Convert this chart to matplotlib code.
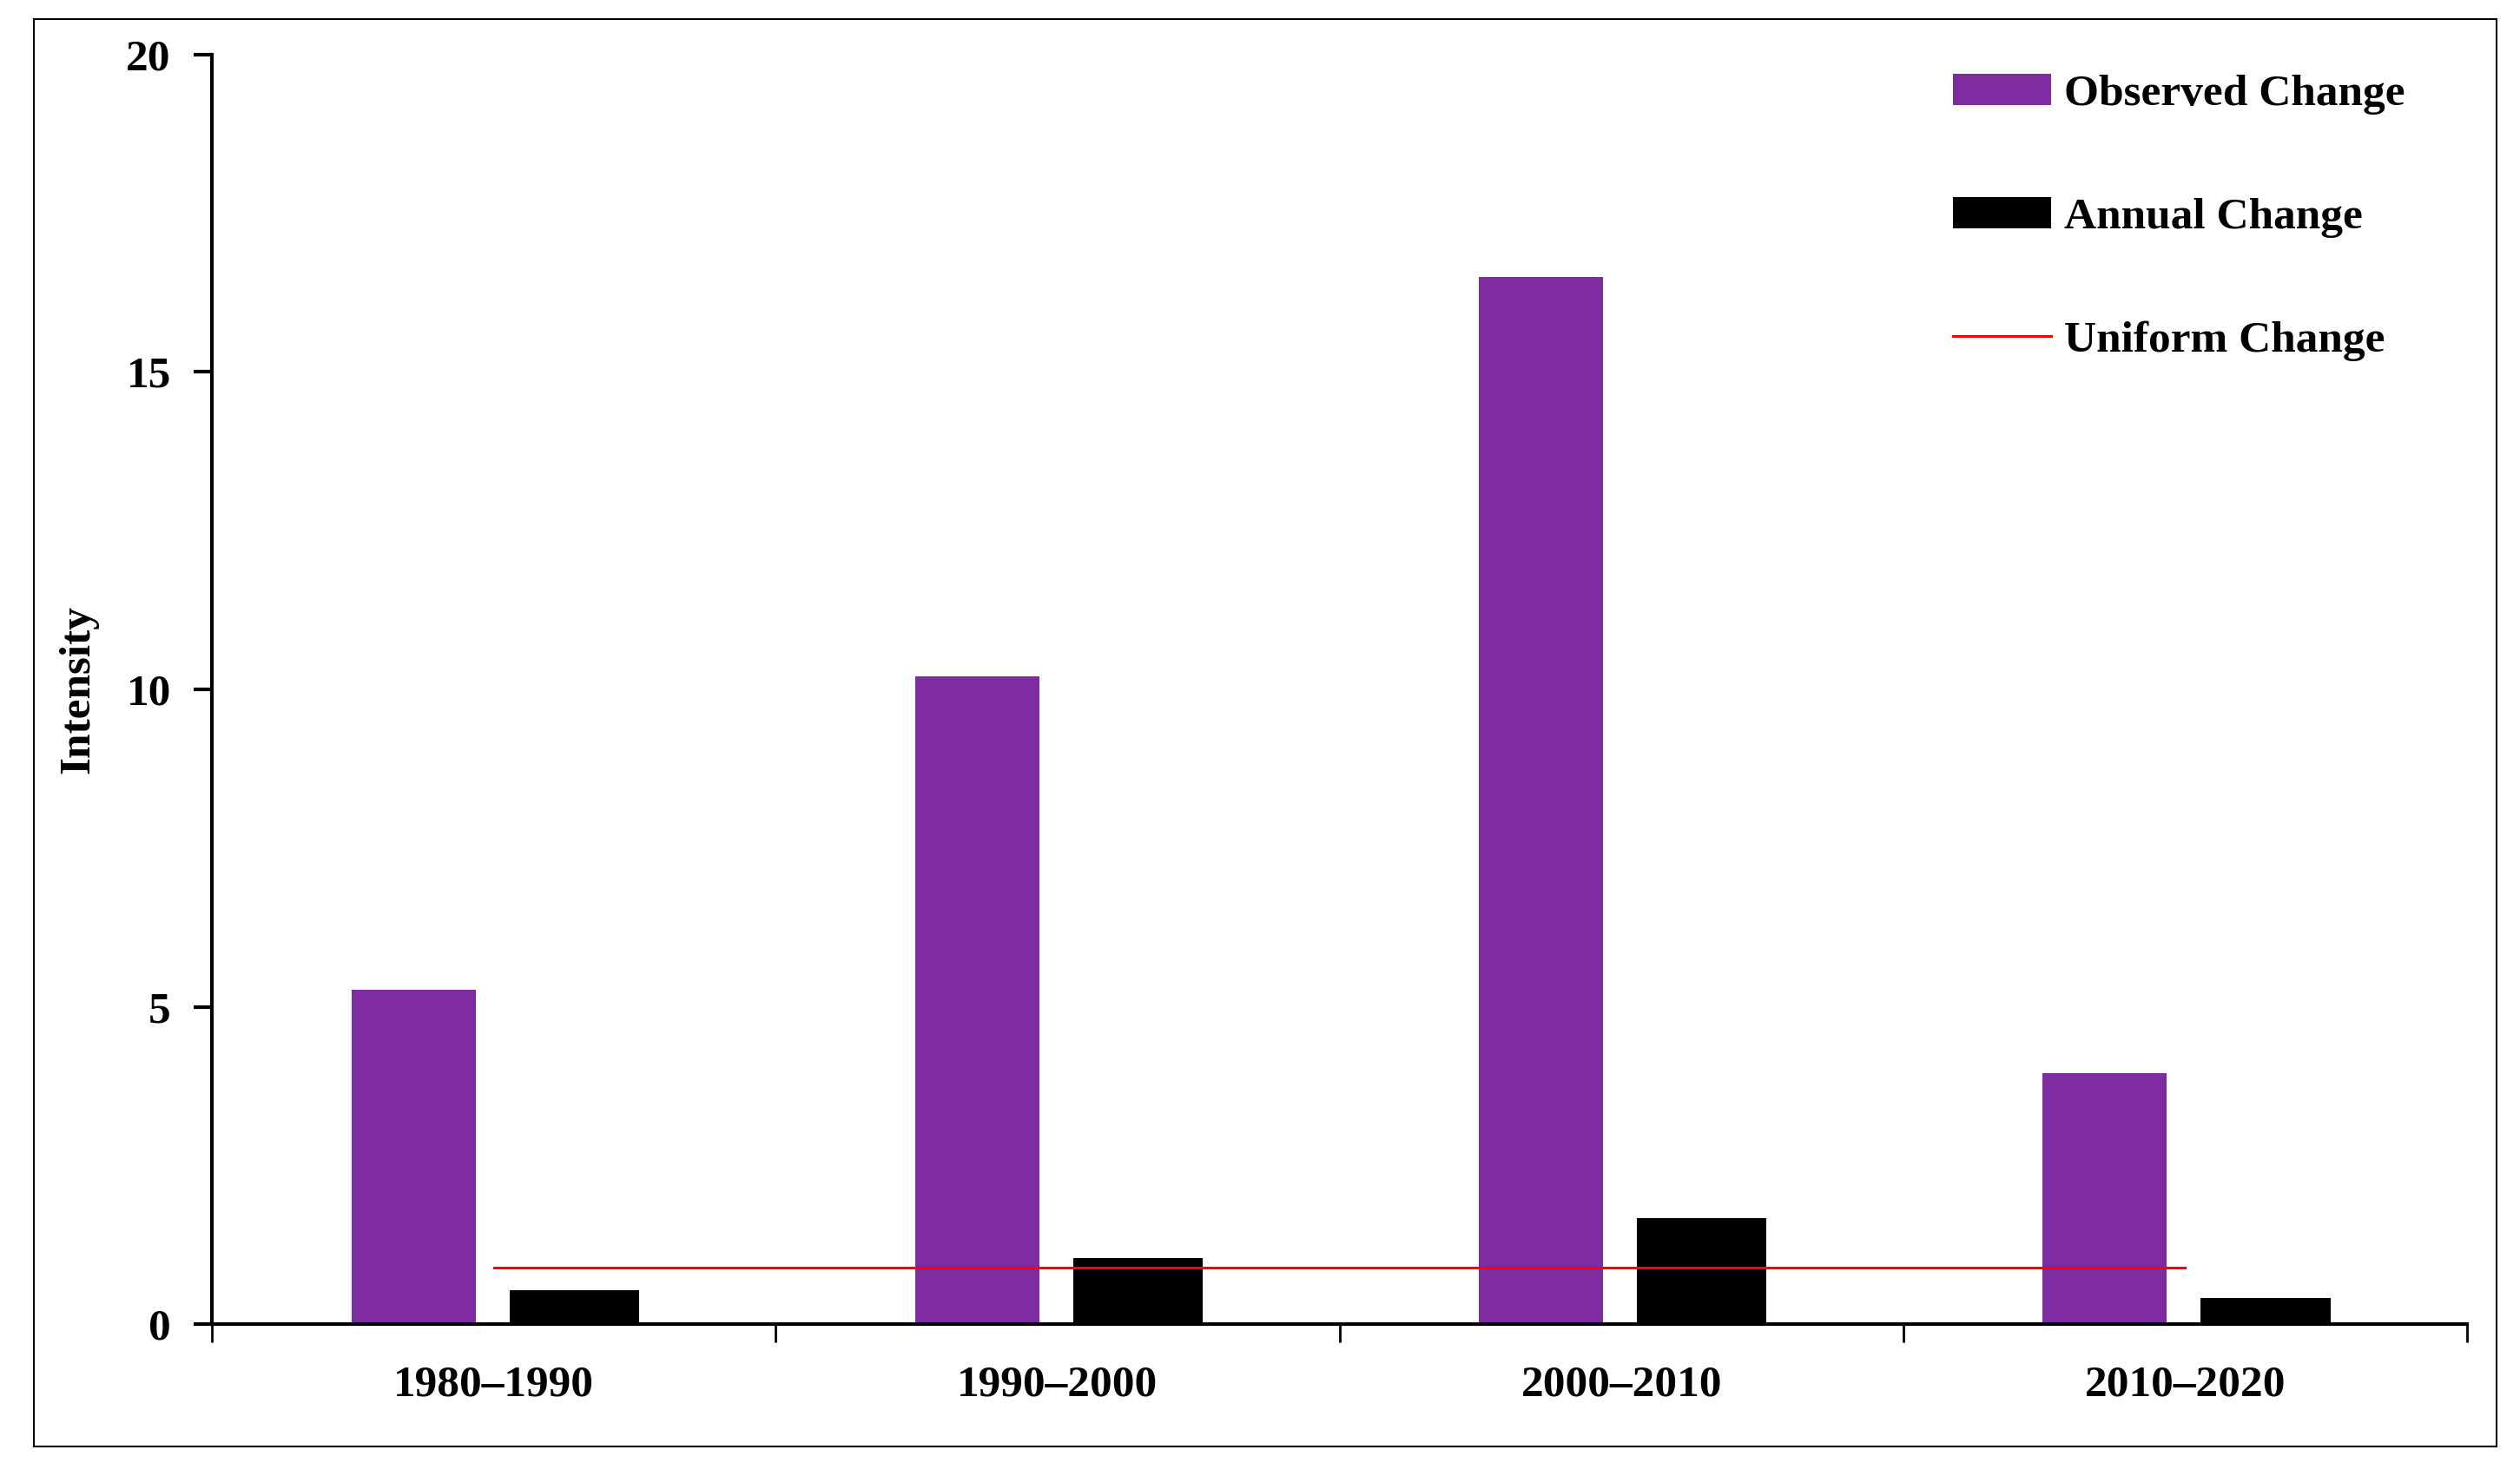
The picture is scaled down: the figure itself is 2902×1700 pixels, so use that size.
import numpy as np
import matplotlib.pyplot as plt
from matplotlib.patches import Rectangle

# Dados
periodos = ['1980–1990', '1990–2000', '2000–2010', '2010–2020']
mudanca_observada = [5.27, 10.2, 16.5, 3.95]
mudanca_anual = [0.53, 1.04, 1.67, 0.41]
mudanca_uniforme = [0.89, 0.89, 0.89, 0.89]

cor_roxa = '#7F2CA0'
fonte = 'Liberation Serif'
tam = 37

fig = plt.figure(figsize=(29.02, 17), dpi=100, facecolor='white')
ax = fig.add_axes([0.0841, 0.1029, 0.979 - 0.0841, 0.963 - 0.1029])

x = np.arange(len(periodos)) + 0.5
b1 = ax.bar(x - 0.1425, mudanca_observada, width=0.22, color=cor_roxa,
            label='Observed Change', zorder=2)
b2 = ax.bar(x + 0.1425, mudanca_anual, width=0.23, color='black',
            label='Annual Change', zorder=2)
l1, = ax.plot(x, mudanca_uniforme, color='red', lw=2.2, label='Uniform Change', zorder=3)

ax.set_xlim(0, len(periodos))
ax.set_ylim(0, 20)
ax.set_yticks([0, 5, 10, 15, 20])
ax.set_xticks(np.arange(len(periodos) + 1))
ax.set_xticklabels([])
ax.set_xticks(x, minor=True)
ax.set_xticklabels(periodos, minor=True)

for s in ['top', 'right']:
    ax.spines[s].set_visible(False)
for s in ['left', 'bottom']:
    ax.spines[s].set_linewidth(3)

ax.tick_params(axis='y', direction='out', length=15, width=3, pad=19)
ax.tick_params(axis='x', which='major', direction='out', length=15, width=2)
ax.tick_params(axis='x', which='minor', length=0, pad=34)

for lbl in ax.get_yticklabels() + ax.get_xticklabels(minor=True):
    lbl.set_fontfamily(fonte)
    lbl.set_fontweight('bold')
    lbl.set_fontsize(tam)

ax.set_ylabel('Intensity', fontfamily=fonte, fontweight='bold', fontsize=tam)
ax.yaxis.set_label_coords(-0.0505, 0.5)

ax.legend([b1, b2, l1], ['Observed Change', 'Annual Change', 'Uniform Change'],
          loc='upper left', bbox_to_anchor=(2249 / 2902, 1 - 85 / 1700),
          bbox_transform=fig.transFigure, frameon=False,
          prop={'family': fonte, 'weight': 'bold', 'size': tam},
          handlelength=2.2, handleheight=0.7, handletextpad=0.3,
          labelspacing=1.85, borderpad=0, borderaxespad=0)

# Moldura externa
fig.patches.append(Rectangle((39 / 2902, 1 - 1666 / 1700),
                             (2875 - 39) / 2902, (1666 - 22) / 1700,
                             transform=fig.transFigure, fill=False,
                             edgecolor='black', linewidth=1.5))

fig.savefig('out.png', dpi=100, facecolor='white')
